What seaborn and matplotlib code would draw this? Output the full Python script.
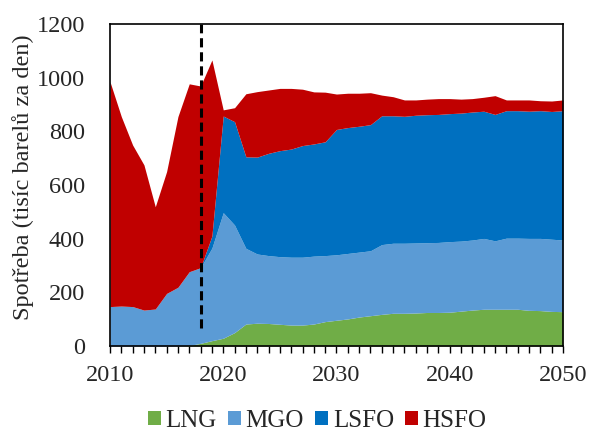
import matplotlib
matplotlib.use("Agg")
import matplotlib.pyplot as plt
import seaborn as sns
from matplotlib.patches import Patch
from matplotlib.ticker import MultipleLocator

# roky a spotřeba (tisíc barelů za den) po jednotlivých palivech
years = list(range(2010, 2051))
lng = [0, 0, 0, 0, 0, 0, 0, 2, 10, 20, 29, 50, 82, 85, 84, 81, 78, 78, 82, 91,
       96, 101, 108, 113, 118, 122, 122, 123, 125, 125, 126, 130, 134, 137, 137, 137,
       137, 133, 132, 129, 128]
mgo = [147, 149, 147, 134, 138, 196, 219, 275, 282, 345, 468, 401, 282, 258, 253, 252,
       253, 253, 253, 246, 244, 244, 242, 242, 260, 261, 261, 261, 260, 261, 263, 261,
       261, 264, 255, 265, 265, 268, 269, 269, 267]
lsfo = [0, 0, 0, 0, 0, 0, 0, 0, 0, 45, 360, 385, 341, 361, 381, 395, 403, 416, 418, 424,
        467, 469, 469, 470, 480, 475, 473, 476, 477, 477, 477, 477, 477, 474, 471, 475,
        475, 474, 476, 476, 482]
hsfo = [838, 706, 602, 541, 381, 454, 636, 700, 677, 656, 23, 52, 235, 244, 236, 232,
        226, 210, 194, 185, 132, 128, 123, 119, 77, 71, 61, 57, 58, 59, 56, 52, 50, 52,
        70, 40, 40, 42, 37, 39, 40]
labels = ["LNG", "MGO", "LSFO", "HSFO"]
colors = ["#70AD47", "#5B9BD5", "#0070C0", "#C00000"]

sns.set_style("ticks")
plt.rcParams["font.family"] = ["Liberation Serif", "DejaVu Serif"]
fs = 17.5

fig = plt.figure(figsize=(5.9, 4.3), dpi=100)
ax = fig.add_axes([0.1864, 0.1953, 0.7678, 0.7489])

ax.stackplot(years, lng, mgo, lsfo, hsfo, colors=colors, linewidth=0)

# hranice roku 2018
ax.plot([2018, 2018], [67, 1200], color="black", linestyle=(0, (3, 1.6)), linewidth=2.2)

ax.set_xlim(2010, 2050)
ax.set_ylim(0, 1200)
ax.xaxis.set_major_locator(MultipleLocator(10))
ax.xaxis.set_minor_locator(MultipleLocator(1))
ax.yaxis.set_major_locator(MultipleLocator(200))
ax.tick_params(axis="x", which="both", direction="out", length=5, width=1,
               labelsize=fs, pad=9, color="black")
ax.tick_params(axis="y", which="major", length=0, labelsize=fs, pad=18)
for s in ax.spines.values():
    s.set_color("black")
    s.set_linewidth(1.2)
ax.set_ylabel("Spotřeba (tisíc barelů za den)", fontsize=fs)
ax.yaxis.set_label_coords(-0.168, 0.525)

handles = [Patch(facecolor=c, edgecolor="none") for c in colors]
fig.legend(handles, labels, loc="center", ncol=4, frameon=False, fontsize=18,
           handlelength=0.5, handleheight=0.5, handletextpad=0.2, columnspacing=0.45,
           borderpad=0, bbox_to_anchor=(0.538, 0.022))

fig.savefig("out.png", dpi=100)
